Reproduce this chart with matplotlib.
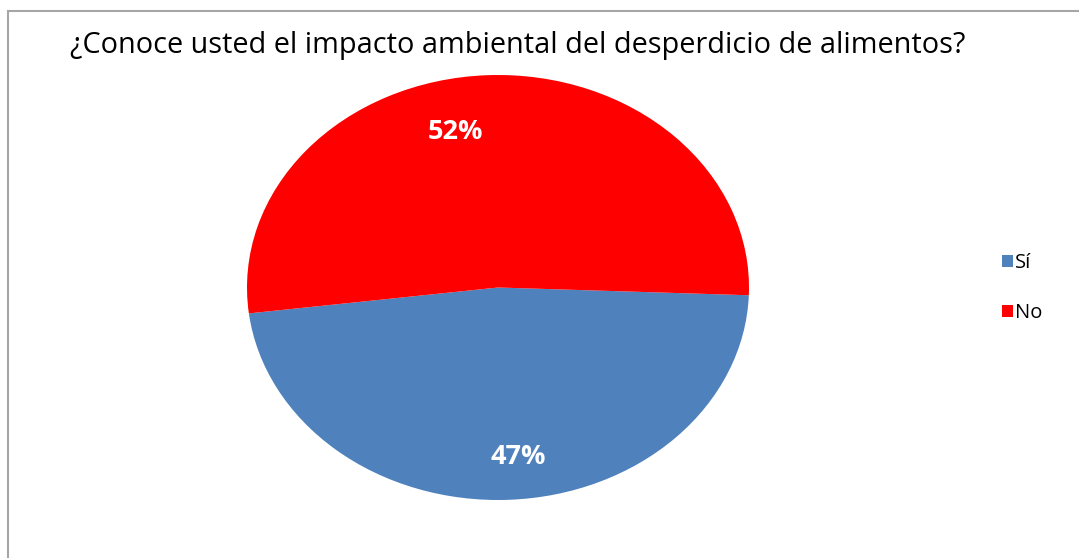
import matplotlib.pyplot as plt
from matplotlib.patches import Rectangle

titulo = "¿Conoce usted el impacto ambiental del desperdicio de alimentos?"
categorias = ["Sí", "No"]
valores = [47, 52]
etiquetas = ["47%", "52%"]
colores = ["#4F81BD", "#FF0000"]

W, H = 1079, 558
fig = plt.figure(figsize=(W / 100, H / 100), dpi=100)
fig.patch.set_facecolor("white")

# gray frame (only top and left visible in the reference)
fig.patches.append(Rectangle((8 / W, -0.1), 1.2, 1 - 11 / H + 0.1,
                             transform=fig.transFigure, fill=False,
                             edgecolor="#a6a6a6", linewidth=1.5))

# pie axes placed in pixels, aspect left free so the pie is slightly wide
ax = fig.add_axes([247 / W, (H - 500) / H, (749 - 247) / W, (500 - 75) / H])
wedges, _ = ax.pie(valores, colors=colores, startangle=187, counterclock=True,
                   radius=1, wedgeprops=dict(linewidth=0))
ax.set_xlim(-1, 1)
ax.set_ylim(-1, 1)
ax.set_aspect("auto")
ax.axis("off")

# percent labels
pos = [(518, 457), (455, 132)]
for (px, py), txt in zip(pos, etiquetas):
    fig.text(px / W, 1 - py / H, txt, color="white", fontsize=19.5,
             fontweight="bold", family="Open Sans", ha="center", va="center")

fig.text(70 / W, 1 - 46 / H, titulo, fontsize=20.8, family="Open Sans",
         ha="left", va="center", color="black")

fig.legend(wedges, categorias, loc="center left",
           bbox_to_anchor=(984 / W, 1 - 288 / H), frameon=False,
           prop=dict(family="Open Sans", size=14.5), handlelength=0.55,
           handleheight=0.55, handletextpad=0.08, labelspacing=1.5)

fig.savefig("out.png", dpi=100)
